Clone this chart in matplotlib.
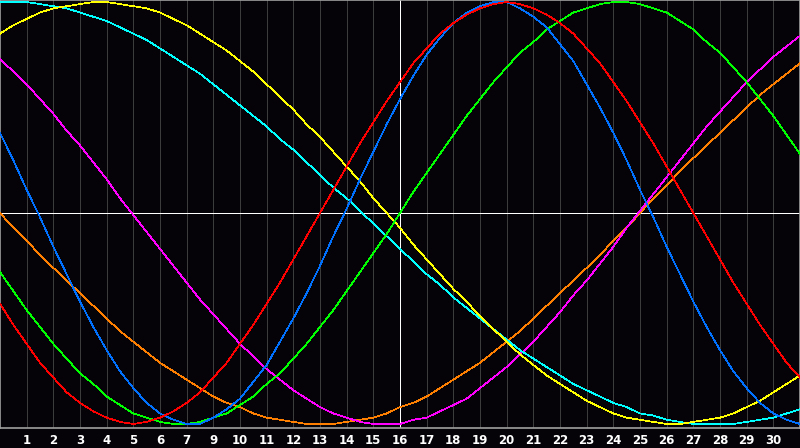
import matplotlib
matplotlib.use("Agg")
import matplotlib.pyplot as plt
import numpy as np

# x positions (days from chart start, read every half day)
days = np.arange(0, 30.5, 0.5)

# tick labels shown under the vertical grid lines 1..29 (day 8 is absent in the original)
tick_pos = list(range(1, 30))
tick_labels = ["1", "2", "3", "4", "5", "6", "7", "9", "10", "11", "12", "13", "14", "15",
               "16", "17", "18", "19", "20", "21", "22", "23", "24", "25", "26", "27",
               "28", "29", "30"]

# series values (percent, -100..100) read every half day
red = [-43, -53, -62, -71, -78, -85, -90, -94, -97, -99, -100, -99, -97, -94, -90, -85,
       -78, -71, -62, -53, -43, -33, -22, -11, 0, 11, 22, 33, 43, 53, 62, 71, 78, 85,
       90, 94, 97, 99, 100, 99, 97, 94, 90, 85, 78, 71, 62, 53, 43, 33, 22, 11, 0,
       -11, -22, -33, -43, -53, -62, -71, -78]
blue = [38, 25, 11, -2, -16, -29, -42, -54, -65, -75, -83, -90, -95, -98, -100, -100,
        -97, -93, -88, -80, -72, -61, -50, -38, -25, -11, 2, 16, 29, 42, 54, 65, 75,
        83, 90, 95, 98, 100, 100, 97, 93, 88, 80, 72, 61, 50, 38, 25, 11, -2, -16, -29,
        -42, -54, -65, -75, -83, -90, -95, -98, -100]
green = [-28, -37, -46, -54, -62, -69, -76, -81, -87, -91, -95, -97, -99, -100, -100, -99,
         -97, -95, -91, -87, -81, -76, -69, -62, -54, -46, -37, -28, -19, -10, 0, 10, 19,
         28, 37, 46, 54, 62, 69, 76, 81, 87, 91, 95, 97, 99, 100, 100, 99, 97, 95, 91,
         87, 81, 76, 69, 62, 54, 46, 37, 28]
yellow = [85, 89, 92, 95, 97, 98, 99, 100, 100, 99, 98, 97, 95, 92, 89, 85, 81, 77, 72,
          67, 61, 55, 49, 42, 36, 29, 22, 15, 7, 0, -7, -15, -22, -29, -36, -42, -49,
          -55, -61, -67, -72, -77, -81, -85, -89, -92, -95, -97, -98, -99, -100, -100,
          -99, -98, -97, -95, -92, -89, -85, -81, -77]
cyan = [100, 100, 100, 99, 98, 97, 95, 93, 91, 88, 85, 82, 78, 74, 70, 66, 61, 56, 51,
        46, 41, 35, 30, 24, 18, 12, 7, 1, -5, -11, -17, -23, -29, -34, -40, -45, -50,
        -55, -60, -65, -69, -73, -77, -81, -84, -87, -90, -92, -95, -96, -98, -99, -100,
        -100, -100, -100, -99, -98, -97, -95, -93]
magenta = [73, 67, 61, 54, 47, 39, 32, 24, 16, 7, -1, -9, -17, -25, -33, -41, -48, -55,
           -62, -68, -74, -79, -84, -88, -92, -95, -97, -99, -100, -100, -100, -98, -97,
           -94, -91, -88, -83, -78, -73, -67, -61, -54, -47, -39, -32, -24, -16, -7, 1,
           9, 17, 25, 33, 41, 48, 55, 62, 68, 74, 79, 84]
orange = [0, -7, -13, -20, -26, -32, -38, -44, -50, -56, -61, -66, -71, -75, -79, -83,
          -87, -90, -92, -95, -97, -98, -99, -100, -100, -100, -99, -98, -97, -95, -92,
          -90, -87, -83, -79, -75, -71, -66, -61, -56, -50, -44, -38, -32, -26, -20, -13,
          -7, 0, 7, 13, 20, 26, 32, 38, 44, 50, 56, 61, 66, 71]

series = [
    (orange, "#ff8000"),
    (magenta, "#ff00ff"),
    (cyan, "#00ffff"),
    (yellow, "#ffff00"),
    (green, "#00ff00"),
    (blue, "#0070ff"),
    (red, "#ff0000"),
]

BG = "#050308"
fig = plt.figure(figsize=(8.0, 4.48), dpi=100, facecolor=BG)
ax = fig.add_axes([0.0, 20 / 448, 1.0, 428 / 448])
ax.set_facecolor(BG)

ax.set_xlim(0, 30)
ax.set_ylim(-101.9, 100.95)

for x in tick_pos:
    ax.axvline(x, color="#3c3c3c", lw=0.7, zorder=1, antialiased=False)
ax.axhline(0, color="white", lw=0.7, zorder=2, antialiased=False)
ax.axvline(15, color="white", lw=0.7, zorder=2, antialiased=False)

for vals, col in series:
    ax.plot(days, vals, color=col, lw=0.5, zorder=3, antialiased=False)

ax.set_xticks(tick_pos)
ax.set_xticklabels(tick_labels)
ax.set_yticks([])
ax.tick_params(axis="x", length=0, pad=4.5, colors="white", labelsize=8.5)
for lab in ax.get_xticklabels():
    lab.set_fontweight("bold")
    lab.set_family("DejaVu Sans")

for sp in ax.spines.values():
    sp.set_color("#a0a0a0")
    sp.set_linewidth(1.2)

fig.savefig("out.png", dpi=100, facecolor=BG)
